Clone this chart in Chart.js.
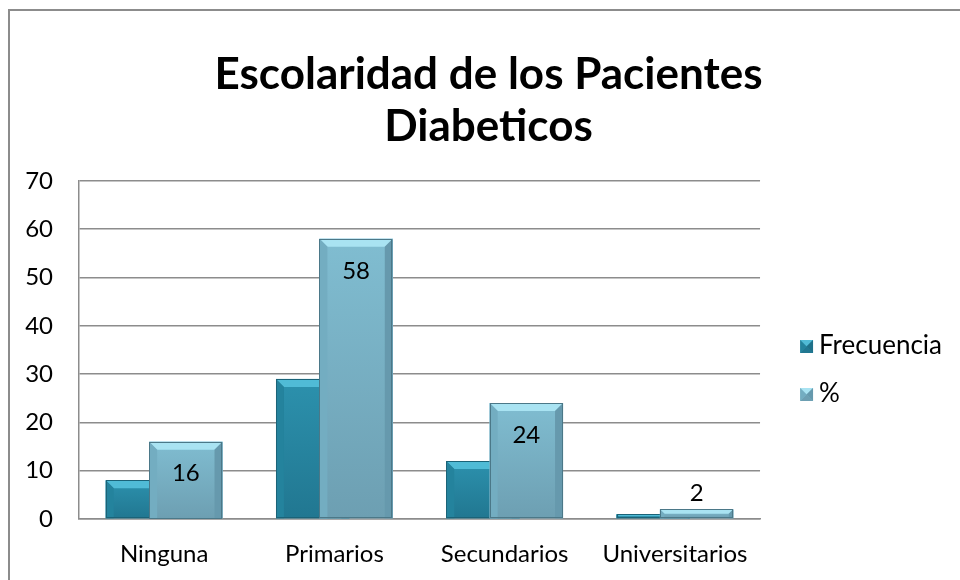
<!DOCTYPE html>
<html><head><meta charset="utf-8">
<style>
html,body{margin:0;padding:0;overflow:hidden;background:#fff;width:960px;height:580px;}
#frame{position:absolute;left:8px;top:9px;width:1100px;height:700px;border:2px solid #8c8c8c;box-sizing:border-box;}
#wrap{position:absolute;left:0;top:0;width:982px;height:580px;}
</style>
<script src="https://cdn.jsdelivr.net/npm/chart.js@4/dist/chart.umd.min.js"></script>
</head><body>
<div id="frame"></div>
<div id="wrap"><canvas id="c" width="982" height="580"></canvas></div>
<script>
const categories = ['Ninguna', 'Primarios', 'Secundarios', 'Universitarios'];
const frecuencia = [8, 29, 12, 1];
const porcentaje = [16, 58, 24, 2];
const seriesNames = ['Frecuencia', '%'];
const titleLines = ['Escolaridad de los Pacientes', 'Diabeticos'];
const yMin = 0, yMax = 70, yStep = 10;

const FONT = 'Lato, "Open Sans", sans-serif';
const GRID = '#8c8c8c';

const bevelStyles = [
  {face: '#2c91ad', top: '#50bbd6', left: '#24839d', right: '#1f7189', bottom: '#217791', edge: '#1b6378'},
  {face: '#80bdd1', top: '#a9e3f2', left: '#73adc1', right: '#6699ad', bottom: '#6d9fb2', edge: '#4b7888'}
];

function poly(ctx, pts, color) {
  ctx.beginPath();
  ctx.moveTo(pts[0][0], pts[0][1]);
  for (let i = 1; i < pts.length; i++) ctx.lineTo(pts[i][0], pts[i][1]);
  ctx.closePath();
  ctx.fillStyle = color;
  ctx.fill();
}

function drawBevel(ctx, l, t, r, b, st, dMax) {
  const h = b - t;
  const d = Math.min(dMax, h / 2, (r - l) / 2);
  const g = ctx.createLinearGradient(0, t, 0, b);
  g.addColorStop(0, st.face);
  g.addColorStop(1, st.bottom);
  ctx.fillStyle = g;
  ctx.fillRect(l, t, r - l, h);
  poly(ctx, [[l, t], [r, t], [r - d, t + d], [l + d, t + d]], st.top);
  poly(ctx, [[l, t], [l + d, t + d], [l + d, b], [l, b]], st.left);
  poly(ctx, [[r, t], [r, b], [r - d, b], [r - d, t + d]], st.right);
  ctx.strokeStyle = st.edge;
  ctx.lineWidth = 1;
  ctx.strokeRect(Math.round(l) + 0.5, Math.round(t) + 0.5, Math.round(r - l) - 1, Math.round(h) - 1);
}

// legend markers: small bevelled squares inside a wider transparent image
const MARK_BOX = 14;
function makeMarker(st) {
  const c = document.createElement('canvas');
  c.width = 30; c.height = 14;
  const x = c.getContext('2d');
  const L = 16, R = 29, T = 1, B = 14, cx = 22.5, cy = 7.5;
  x.fillStyle = st.face;
  x.fillRect(L, T, R - L, B - T);
  poly(x, [[L, T], [R, T], [cx, cy]], st.top);
  poly(x, [[L, B], [R, B], [cx, cy]], st.bottom);
  poly(x, [[L, T], [L, B], [cx, cy]], st.left);
  poly(x, [[R, T], [R, B], [cx, cy]], st.right);
  return c;
}
const markers = bevelStyles.map(makeMarker);

const bevelPlugin = {
  id: 'bevelBars',
  beforeDatasetDraw() { return false; },
  afterDatasetsDraw(chart) {
    const ctx = chart.ctx;
    [0, 1].forEach(di => {
      const meta = chart.getDatasetMeta(di);
      meta.controller.draw();
      const st = bevelStyles[di];
      meta.data.forEach(el => {
        const p = el.getProps(['x', 'y', 'base', 'width'], true);
        ctx.save();
        drawBevel(ctx, p.x - p.width / 2, p.y, p.x + p.width / 2, p.base, st, 8);
        ctx.restore();
      });
    });
    // value labels for the % series
    const meta = chart.getDatasetMeta(1);
    ctx.save();
    ctx.font = '24px ' + FONT;
    ctx.fillStyle = '#000';
    ctx.textAlign = 'center';
    ctx.textBaseline = 'middle';
    meta.data.forEach((el, i) => {
      const p = el.getProps(['x', 'y', 'base'], true);
      const h = p.base - p.y;
      const y = h > 50 ? p.y + 32 : p.y - 16;
      ctx.fillText(String(porcentaje[i]), p.x, y);
    });
    ctx.restore();
  }
};

new Chart(document.getElementById('c'), {
  type: 'bar',
  data: {
    labels: categories,
    datasets: [
      {label: seriesNames[0], data: frecuencia, backgroundColor: bevelStyles[0].face, borderWidth: 0,
       categoryPercentage: 0.51, barPercentage: 1.69},
      {label: seriesNames[1], data: porcentaje, backgroundColor: bevelStyles[1].face, borderWidth: 0,
       categoryPercentage: 0.51, barPercentage: 1.69}
    ]
  },
  options: {
    responsive: false,
    animation: false,
    layout: {padding: {left: 25, right: 30, top: 0, bottom: 0}},
    plugins: {
      title: {
        display: true,
        text: titleLines,
        color: '#000',
        font: {family: FONT, size: 44, weight: 'bold', lineHeight: 1.18},
        padding: {top: 49, bottom: 28}
      },
      legend: {
        position: 'right',
        align: 'start',
        title: {display: true, text: ' ', font: {size: 10, lineHeight: 1.2}, padding: {top: 299, bottom: 0}},
        labels: {
          color: '#000',
          font: {family: FONT, size: 26},
          usePointStyle: true,
          pointStyleWidth: MARK_BOX,
          boxHeight: 13,
          padding: 22,
          generateLabels(chart) {
            const items = Chart.defaults.plugins.legend.labels.generateLabels(chart);
            items.forEach((it, i) => { it.pointStyle = markers[i]; });
            return items;
          }
        }
      },
      tooltip: {enabled: false}
    },
    scales: {
      x: {
        grid: {display: false},
        border: {display: true, color: GRID, width: 1.5},
        ticks: {color: '#000', font: {family: FONT, size: 24}, padding: 13},
        afterFit: s => { s.height = 61; }
      },
      y: {
        min: yMin, max: yMax,
        ticks: {stepSize: yStep, color: '#000', font: {family: FONT, size: 24}, padding: 26},
        grid: {color: GRID, lineWidth: 1.5, drawTicks: false},
        border: {display: true, color: GRID, width: 1.5},
        afterFit: s => { s.width = 54; }
      },
      ySpacer: {
        position: 'right',
        display: false,
        min: 0, max: 1,
        afterFit: s => { s.width = 10; }
      }
    }
  },
  plugins: [bevelPlugin]
});
</script>
</body></html>
